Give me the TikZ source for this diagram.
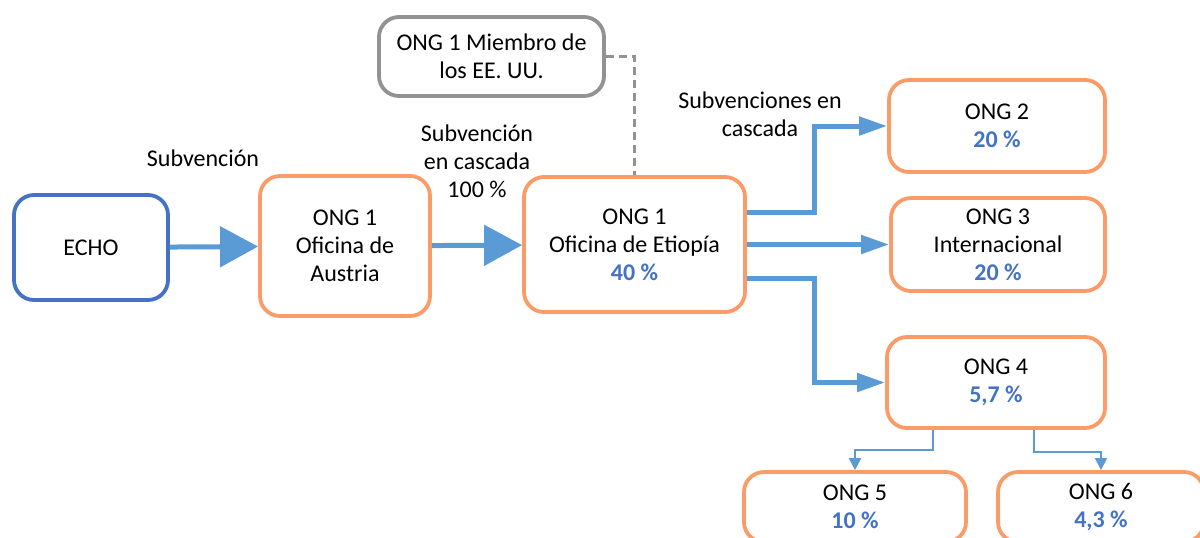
\documentclass[tikz,border=0pt]{standalone}
\usepackage{fontspec}
\setmainfont{Carlito}
\usetikzlibrary{arrows.meta}
\definecolor{naranja}{RGB}{250,155,104}
\definecolor{azul}{RGB}{68,114,196}
\definecolor{flecha}{RGB}{91,155,213}
\definecolor{gris}{RGB}{146,146,146}
\newcommand{\pct}[1]{\textcolor{azul}{\textbf{#1}}}

\begin{document}
\begin{tikzpicture}[x=0.5pt,y=-0.5pt,
  main/.style = {draw=naranja, line width=1.9pt, rounded corners=10pt, align=center, inner sep=2pt, font=\fontsize{12}{14}\selectfont},
  label/.style = {align=center, inner sep=0pt, font=\fontsize{12}{14}\selectfont},
  bigflow/.style = {draw=flecha, line width=2.5pt, -{Triangle[length=19pt,width=20pt]}},
  flow/.style = {draw=flecha, line width=2.5pt, -{Triangle[length=14pt,width=9pt]}},
  thinflow/.style = {draw=flecha, line width=1.2pt, -{Triangle[length=6pt,width=6pt]}}]
\useasboundingbox (0,0) rectangle (1200,537);
\clip (0,0) rectangle (1200,537);
\node[main, draw=azul, minimum width=77pt, minimum height=52.5pt] (echo) at (91,247.5) {ECHO};
\node[main, minimum width=85pt, minimum height=70pt] (aus) at (345,246) {ONG 1\\Oficina de\\Austria};
\node[main, minimum width=110.5pt, minimum height=67.5pt] (eti) at (634.5,244.5) {ONG 1\\Oficina de Etiopía\\\pct{40 \%}};
\node[main, draw=gris, minimum width=112.5pt, minimum height=39.5pt] (usa) at (491.5,56.5) {ONG 1 Miembro de\\los EE. UU.};
\node[main, minimum width=108pt, minimum height=46pt] (ong2) at (997,126) {ONG 2\\\pct{20 \%}};
\node[main, minimum width=107pt, minimum height=46.5pt] (ong3) at (998,244.5) {ONG 3\\Internacional\\\pct{20 \%}};
\node[main, minimum width=109pt, minimum height=45.5pt] (ong4) at (996,382.5) {ONG 4\\\pct{5,7 \%}};
\node[main, minimum width=111pt, minimum height=35pt] (ong5) at (855,507) {ONG 5\\\pct{10 \%}};
\node[main, minimum width=103pt, minimum height=35pt] (ong6) at (1101,507) {ONG 6\\\pct{4,3 \%}};
\node[label] (sub) at (203,158) {Subvención};
\node[label] (subcas) at (477,161) {Subvención\\en cascada\\100 \%};
\node[label] (subs) at (760,114) {Subvenciones en\\cascada};
\draw[bigflow] (echo) -- (aus);
\draw[bigflow] (aus) -- (eti);
\draw[gris, line width=1.4pt, dash pattern=on 4pt off 2.5pt] (usa.east) -| (eti.north);
\draw[flow] ([yshift=16pt]eti.east) -- ++(68,0) |- (ong2.west);
\draw[flow] (eti.east) -- (ong3.west);
\draw[flow] ([yshift=-17pt]eti.east) -- ++(68,0) |- (ong4.west);
\draw[thinflow] ([xshift=-31.5pt]ong4.south) -- ++(0,20) -| (ong5.north);
\draw[thinflow, line width=0.75pt] ([xshift=19pt]ong4.south) -- ++(0,22) -| (ong6.north);
\end{tikzpicture}
\end{document}
